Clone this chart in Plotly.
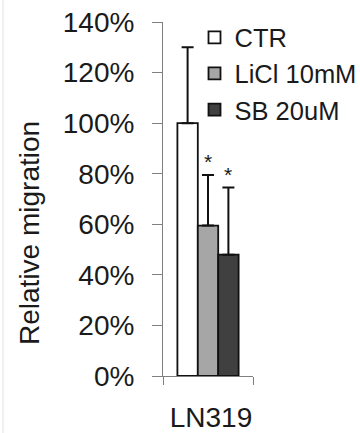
import plotly.graph_objects as go

categories = ["LN319"]
series_names = ["CTR", "LiCl 10mM", "SB 20uM"]
values = [100, 59.5, 48]
errors_up = [30, 20, 26.5]
significance = ["", "*", "*"]
colors = ["#ffffff", "#a6a6a6", "#404040"]
y_ticks = [0, 20, 40, 60, 80, 100, 120, 140]
y_tick_labels = [f"{v}%" for v in y_ticks]
y_title = "Relative migration"

FONT = "Liberation Sans, Arial, sans-serif"
TXT = "#1a1a1a"
BARGAP = 0.32

fig = go.Figure()
for name, v, e, c in zip(series_names, values, errors_up, colors):
    fig.add_trace(go.Bar(
        x=categories, y=[v], name=name,
        marker=dict(color=c, line=dict(color="#111111", width=1.8)),
        error_y=dict(type="data", symmetric=False, array=[e], arrayminus=[0],
                     color="#111111", thickness=2, width=6),
    ))

bw = (1 - BARGAP) / len(series_names)
for i, (s, v, e) in enumerate(zip(significance, values, errors_up)):
    if s:
        fig.add_annotation(x=(i - (len(series_names) - 1) / 2) * bw, xref="x",
                           y=v + e, yref="y", text=s, showarrow=False,
                           yanchor="bottom", yshift=0,
                           font=dict(family=FONT, size=21, color=TXT))

# y-axis title placed as rotated annotation (sits lower than the axis centre)
fig.add_annotation(text=y_title, xref="paper", yref="paper", x=-1.478, y=0.404,
                   textangle=-90, showarrow=False, xanchor="center", yanchor="middle",
                   font=dict(family=FONT, size=28, color=TXT))

fig.update_layout(
    width=360, height=433,
    margin=dict(l=163, r=107, t=22, b=57, autoexpand=False),
    paper_bgcolor="white", plot_bgcolor="white",
    barmode="group", bargap=BARGAP, bargroupgap=0,
    showlegend=True,
    legend=dict(x=0.35, xanchor="left", y=1.022, yanchor="top",
                font=dict(family=FONT, size=25.5, color=TXT),
                bgcolor="rgba(0,0,0,0)", tracegroupgap=0, itemwidth=30),
    font=dict(family=FONT, color=TXT),
)
fig.update_xaxes(range=[-0.5, 0.5], showline=True, linecolor="#7f7f7f", linewidth=1,
                 ticks="outside", tickson="boundaries", ticklen=8, tickcolor="#7f7f7f",
                 tickfont=dict(family=FONT, size=28, color=TXT), tickangle=0,
                 automargin=False,
                 ticklabelstandoff=16, ticklabelshift=3, showgrid=False, zeroline=False)
fig.update_yaxes(range=[0, 140], tickvals=y_ticks, ticktext=y_tick_labels,
                 showline=True, linecolor="#7f7f7f", linewidth=1,
                 ticks="outside", ticklen=10, tickcolor="#7f7f7f",
                 tickfont=dict(family=FONT, size=28, color=TXT), automargin=False,
                 ticklabelstandoff=12, showgrid=False, zeroline=False)
fig.add_shape(type="line", xref="paper", yref="paper", x0=-1.778, x1=-1.778,
              y0=-0.2, y1=1.1, line=dict(color="#e2e2e2", width=1))

fig.write_html("out.html")
